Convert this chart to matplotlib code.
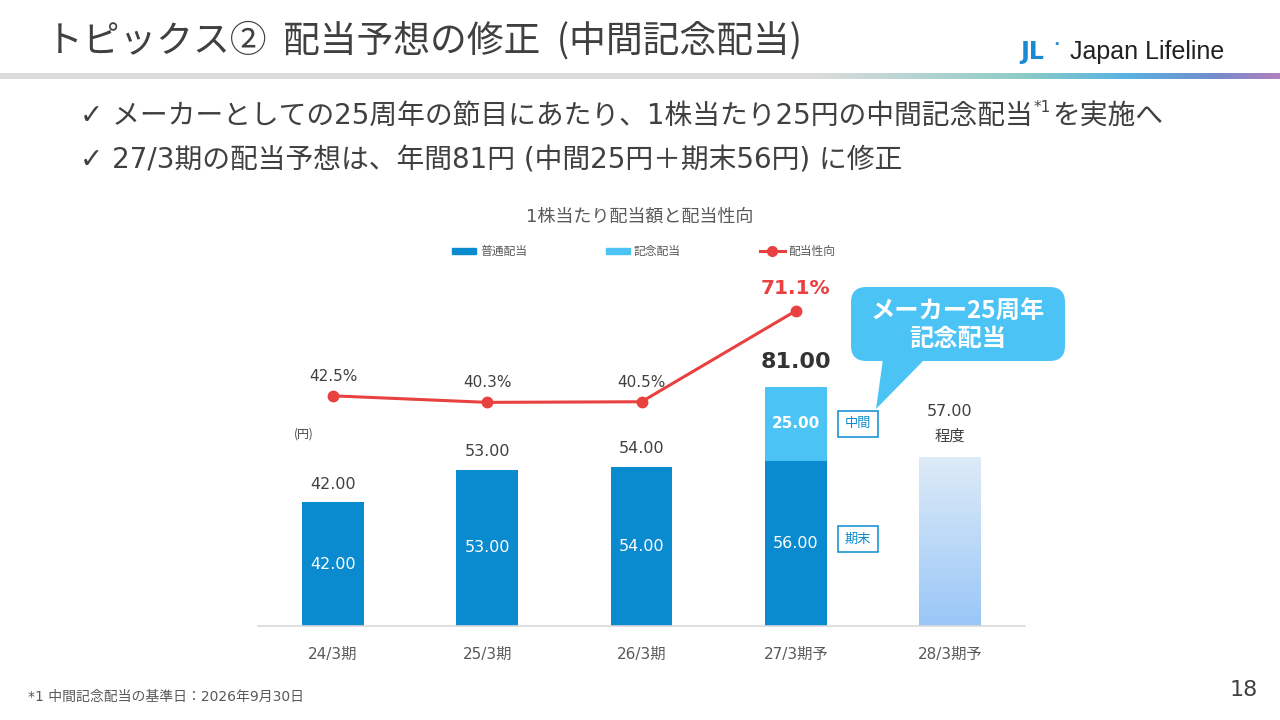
import numpy as np
import matplotlib
matplotlib.use("Agg")
import matplotlib.pyplot as plt
from matplotlib.patches import Rectangle, FancyBboxPatch, Polygon
from matplotlib.lines import Line2D

plt.rcParams['font.family'] = ['Noto Sans CJK JP', 'DejaVu Sans']
MIX = ['DejaVu Sans', 'Noto Sans CJK JP']   # wide latin digits, CJK fallback

# data
periods = ['24/3期', '25/3期', '26/3期', '27/3期予', '28/3期予']
ordinary = [42.0, 53.0, 54.0, 56.0, 0.0]
memorial = [0.0, 0.0, 0.0, 25.0, 0.0]
forecast_28 = 57.0
payout = [42.5, 40.3, 40.5, 71.1]
payout_labels = ['42.5%', '40.3%', '40.5%', '71.1%']

DARK = '#0a8acf'
LIGHT = '#4cc3f5'
RED = '#e8413f'
GRAY = '#595959'
W, H = 1280, 720


def fx(px):
    return px / W


def fy(py):
    return 1 - py / H


def main():
    fig = plt.figure(figsize=(12.8, 7.2), dpi=100)
    fig.patch.set_facecolor('white')

    # header
    fig.text(fx(46), fy(41), 'トピックス②  配当予想の修正  (中間記念配当)', fontsize=26.5,
             color='#404040', va='center', ha='left')
    band = fig.add_axes([0, fy(79), 1, 6 / H])
    grad = np.ones((1, 512, 3))
    cols = np.array([[0.86, 0.86, 0.86], [0.86, 0.86, 0.86], [0.55, 0.80, 0.78],
                     [0.35, 0.70, 0.88], [0.45, 0.55, 0.80], [0.70, 0.50, 0.75]])
    xs = np.linspace(0, 1, 512)
    stops = [0.0, 0.64, 0.80, 0.88, 0.95, 1.0]
    for c in range(3):
        grad[0, :, c] = np.interp(xs, stops, cols[:, c])
    band.imshow(grad, aspect='auto', extent=[0, 1, 0, 1])
    band.axis('off')

    fig.text(fx(1020), fy(52), 'JL', fontsize=17, fontweight='bold', color='#1a8ad4',
             va='center', ha='left', family='DejaVu Sans')
    fig.text(fx(1053), fy(44), '•', fontsize=8, color='#1a8ad4', va='center',
             family='DejaVu Sans')
    fig.text(fx(1070), fy(52), 'Japan Lifeline', fontsize=18, color='#222222',
             va='center', ha='left', family='Liberation Sans')

    # bullets
    fig.canvas.draw()
    r = fig.canvas.get_renderer()
    t1 = fig.text(fx(80), fy(116), '✓ メーカーとしての25周年の節目にあたり、1株当たり25円の中間記念配当',
                  fontsize=20, color='#404040', va='center', ha='left', family=MIX)
    bb = t1.get_window_extent(r)
    t2 = fig.text(bb.x1 / W + 0.001, fy(107), '*1', fontsize=11, color='#404040',
                  va='center', ha='left', family=MIX)
    bb2 = t2.get_window_extent(r)
    fig.text(bb2.x1 / W + 0.001, fy(116), 'を実施へ', fontsize=20, color='#404040',
             va='center', ha='left', family=MIX)
    fig.text(fx(80), fy(160), '✓ 27/3期の配当予想は、年間81円 (中間25円＋期末56円) に修正',
             fontsize=20, color='#404040', va='center', ha='left', family=MIX)

    # chart
    ax = fig.add_axes([fx(258), fy(626), fx(1025) - fx(258), (626 - 250) / H])
    x = np.arange(len(periods))
    bw = 0.40
    ax.bar(x[:4], ordinary[:4], bw, color=DARK, zorder=2)
    ax.bar(x[:4], memorial[:4], bw, bottom=ordinary[:4], color=LIGHT, zorder=2)
    # gradient bar for 28/3
    g = np.linspace(0, 1, 100).reshape(-1, 1, 1)
    top_c = np.array([0.87, 0.92, 0.97])
    bot_c = np.array([0.60, 0.78, 0.97])
    img = top_c * (1 - g) + bot_c * g
    ax.imshow(img, aspect='auto', extent=[x[4] - bw / 2, x[4] + bw / 2, 0, forecast_28],
              zorder=2)
    ax.set_xlim(-0.486, 4.486)
    ax.set_ylim(0, 127.4)
    for s in ['top', 'right', 'left']:
        ax.spines[s].set_visible(False)
    ax.spines['bottom'].set_color('#d9d9d9')
    ax.spines['bottom'].set_linewidth(1.2)
    ax.set_yticks([])
    ax.set_xticks(x)
    ax.set_xticklabels(periods, fontsize=11, color=GRAY, family=MIX)
    ax.tick_params(axis='x', length=0, pad=15)

    for i in range(4):
        ax.text(x[i], ordinary[i] / 2, f'{ordinary[i]:.2f}', ha='center', va='center',
                fontsize=11.5, color='white', family='DejaVu Sans')
    for i in range(3):
        ax.text(x[i], ordinary[i] + 3.5, f'{ordinary[i]:.2f}', ha='center', va='bottom',
                fontsize=11.5, color='#404040', family='DejaVu Sans')
    ax.text(x[3], ordinary[3] + memorial[3] / 2, f'{memorial[3]:.2f}', ha='center',
            va='center', fontsize=11, color='white', fontweight='bold', family='DejaVu Sans')
    total = ordinary[3] + memorial[3]
    ax.text(x[3], total + 5, f'{total:.2f}', ha='center', va='bottom', fontsize=16,
            color='#333333', fontweight='bold', family='DejaVu Sans')
    ax.text(x[4], forecast_28 + 13, f'{forecast_28:.2f}', ha='center', va='bottom',
            fontsize=11.5, color='#404040', family='DejaVu Sans')
    ax.text(x[4], forecast_28 + 4.5, '程度', ha='center', va='bottom', fontsize=11,
            color='#404040')
    ax.text(-0.19, 65, '(円)', ha='center', va='center', fontsize=8.5, color='#404040')

    # tag boxes
    for label, yv in [('中間', ordinary[3] + memorial[3] / 2), ('期末', ordinary[3] / 2 + 1.5)]:
        ax.text(x[3] + 0.405, yv, label, ha='center', va='center', fontsize=9.5, color=DARK,
                bbox=dict(boxstyle='square,pad=0.5', fc='white', ec=DARK, lw=1.1), zorder=4)

    # payout line
    ax2 = ax.twinx()
    ax2.set_ylim(-35.0, 91.6)
    ax2.axis('off')
    ax2.plot(x[:4], payout, color=RED, lw=2.2, marker='o', ms=7.5, zorder=3)
    for i in range(3):
        ax2.text(x[i], payout[i] + 4, payout_labels[i], ha='center', va='bottom',
                 fontsize=11, color='#404040', family='DejaVu Sans')
    ax2.text(x[3], payout[3] + 4.5, payout_labels[3], ha='center', va='bottom', fontsize=14.5,
             color=RED, fontweight='bold', family='DejaVu Sans')

    # chart title and legend
    fig.text(0.5, fy(217), '1株当たり配当額と配当性向', ha='center', va='center',
             fontsize=13, color=GRAY, family=MIX)
    fig.patches.append(Rectangle((fx(452), fy(254)), fx(24), 6 / H, color=DARK,
                                 transform=fig.transFigure))
    fig.text(fx(480), fy(251), '普通配当', fontsize=8.5, color=GRAY, va='center')
    fig.patches.append(Rectangle((fx(606), fy(254)), fx(24), 6 / H, color=LIGHT,
                                 transform=fig.transFigure))
    fig.text(fx(634), fy(251), '記念配当', fontsize=8.5, color=GRAY, va='center')
    fig.lines.append(Line2D([fx(760), fx(785)], [fy(251), fy(251)], color=RED, lw=2.2,
                            transform=fig.transFigure))
    fig.lines.append(Line2D([fx(772)], [fy(251)], color=RED, marker='o', ms=7,
                            transform=fig.transFigure))
    fig.text(fx(788), fy(251), '配当性向', fontsize=8.5, color=GRAY, va='center')

    # callout
    fig.patches.append(FancyBboxPatch((fx(851), fy(361)), fx(214), (361 - 287) / H,
                                      boxstyle='round,pad=0,rounding_size=0.012',
                                      fc=LIGHT, ec='none', transform=fig.transFigure,
                                      mutation_aspect=W / H))
    fig.patches.append(Polygon([(fx(883), fy(359)), (fx(925), fy(359)), (fx(876), fy(409))],
                               closed=True, fc=LIGHT, ec='none', transform=fig.transFigure))
    fig.text(fx(958), fy(325), 'メーカー25周年\n記念配当', ha='center', va='center',
             fontsize=17.5, color='white', fontweight='bold', linespacing=1.2)

    # footer
    fig.text(fx(28), fy(697), '*1 中間記念配当の基準日：2026年9月30日', fontsize=10,
             color=GRAY, va='center', family=MIX)
    fig.text(fx(1258), fy(690), '18', fontsize=16, color='#404040', va='center', ha='right',
             family='DejaVu Sans')

    fig.savefig('out.png', dpi=100)


if __name__ == "__main__":
    main()
